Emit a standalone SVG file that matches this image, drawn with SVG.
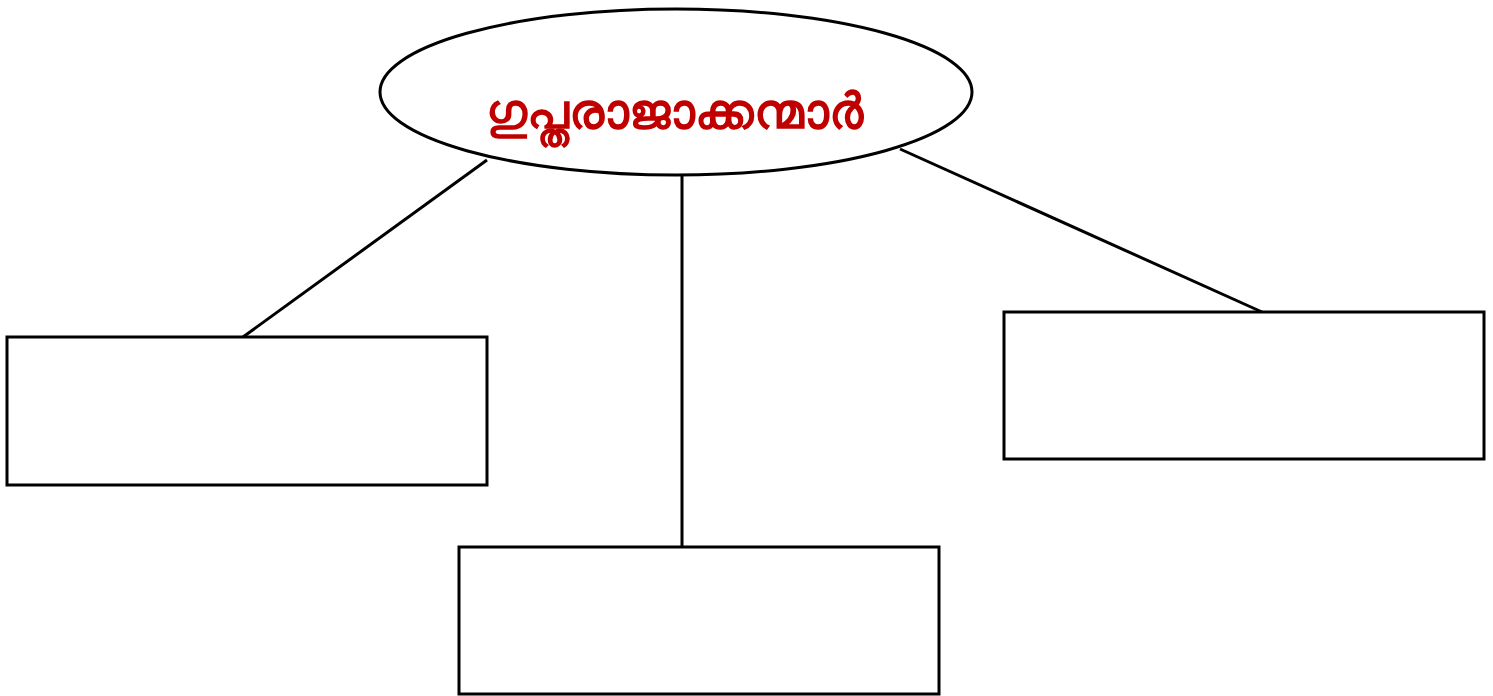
<svg xmlns="http://www.w3.org/2000/svg" width="1493" height="696" viewBox="0 0 1493 696">
<style>
.s{fill:#fff;stroke:#000;stroke-width:3}
.c{stroke:#000;stroke-width:3;fill:none}
.t{font-family:"Noto Sans","DejaVu Sans",sans-serif;font-weight:bold;font-size:49px;fill:#c00000;text-anchor:middle}
</style>
<rect width="1493" height="696" fill="#fff"/>
<g id="connectors">
<line class="c" x1="487" y1="160" x2="243" y2="337"/>
<line class="c" x1="682" y1="176" x2="682" y2="547"/>
<line class="c" x1="900" y1="149" x2="1262" y2="312"/>
</g>
<g id="root">
<ellipse class="s" cx="676" cy="92" rx="296" ry="83"/>
<text class="t" x="674" y="128">ഗുപ്തരാജാക്കന്മാർ</text>
</g>
<g id="box-left"><rect class="s" x="7" y="337" width="480" height="148"/></g>
<g id="box-middle"><rect class="s" x="459" y="547" width="480" height="147"/></g>
<g id="box-right"><rect class="s" x="1004" y="312" width="480" height="147"/></g>
</svg>
